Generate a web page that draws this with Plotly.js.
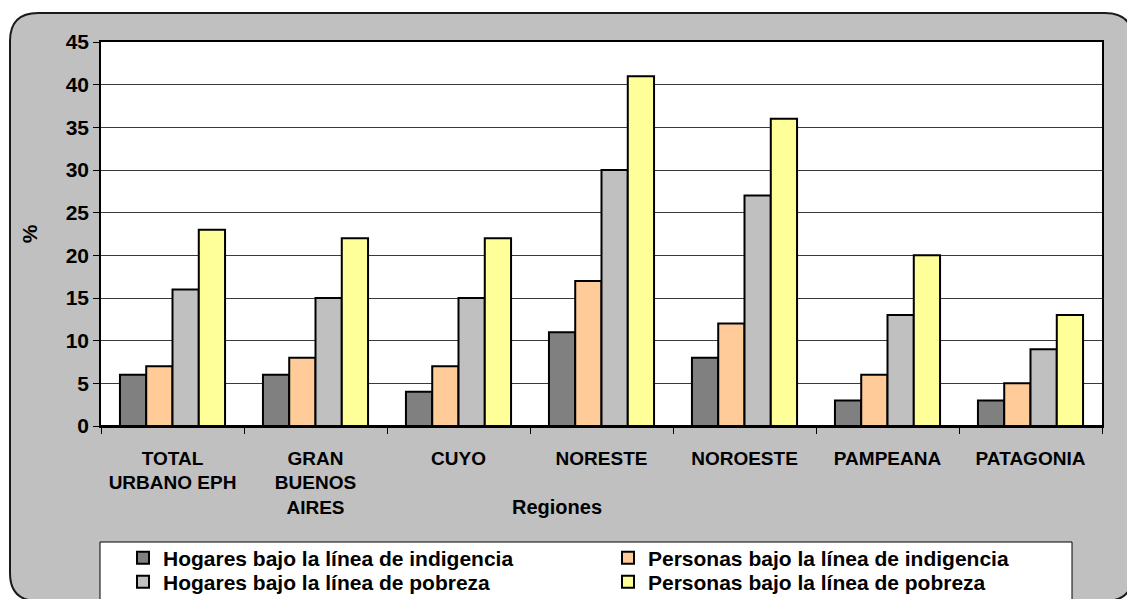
<!DOCTYPE html>
<html>
<head>
<meta charset="utf-8">
<script src="https://cdn.plot.ly/plotly-3.0.1.min.js"></script>
<style>html,body{margin:0;padding:0;background:#fff;}#chart{width:1127px;height:599px;}</style>
</head>
<body>
<div id="chart"></div>
<script>
var categories = ['TOTAL<br>URBANO EPH', 'GRAN<br>BUENOS<br>AIRES', 'CUYO', 'NORESTE', 'NOROESTE', 'PAMPEANA', 'PATAGONIA'];
var seriesNames = ['Hogares bajo la línea de indigencia', 'Personas bajo la línea de indigencia', 'Hogares bajo la línea de pobreza', 'Personas bajo la línea de pobreza'];
var hogaresIndigencia = [6, 6, 4, 11, 8, 3, 3];
var personasIndigencia = [7, 8, 7, 17, 12, 6, 5];
var hogaresPobreza = [16, 15, 15, 30, 27, 13, 9];
var personasPobreza = [23, 22, 22, 41, 36, 20, 13];
var seriesColors = ['#808080', '#FFCC99', '#C0C0C0', '#FFFF99'];
var legendRows = ['legend', 'legend', 'legend2', 'legend2'];
var yTicks = [0, 5, 10, 15, 20, 25, 30, 35, 40, 45];

var seriesValues = [hogaresIndigencia, personasIndigencia, hogaresPobreza, personasPobreza];
var FONT = 'Arial, "Liberation Sans", sans-serif';

var traces = seriesValues.map(function (vals, i) {
  return {
    type: 'bar',
    name: seriesNames[i],
    x: categories,
    y: vals,
    legend: legendRows[i],
    marker: {color: seriesColors[i], line: {color: '#000', width: 2}},
    hoverinfo: 'x+y+name'
  };
});

// pixel -> paper helpers for decoration shapes
var L = 101, R = 25, T = 42, B = 173, W = 1127, H = 599;
var pw = W - L - R, ph = H - T - B;
function px(x) { return (x - L) / pw; }
function py(y) { return (H - B - y) / ph; }

function roundRect(x0, y0, x1, y1, r) {
  var rx = r / pw, ry = r / ph;
  var a = px(x0), b = px(x1), top = py(y0), bot = py(y1);
  return 'M' + (a + rx) + ',' + top +
    ' L' + (b - rx) + ',' + top +
    ' Q' + b + ',' + top + ' ' + b + ',' + (top - ry) +
    ' L' + b + ',' + (bot + ry) +
    ' Q' + b + ',' + bot + ' ' + (b - rx) + ',' + bot +
    ' L' + (a + rx) + ',' + bot +
    ' Q' + a + ',' + bot + ' ' + a + ',' + (bot + ry) +
    ' L' + a + ',' + (top - ry) +
    ' Q' + a + ',' + top + ' ' + (a + rx) + ',' + top + ' Z';
}

function legendRow(yPix) {
  return {
    orientation: 'h',
    x: px(123), xanchor: 'left',
    y: py(yPix), yanchor: 'middle',
    bgcolor: 'rgba(0,0,0,0)',
    borderwidth: 0,
    entrywidth: 440,
    entrywidthmode: 'pixels',
    traceorder: 'normal',
    font: {family: FONT, size: 21, color: '#000', weight: 'bold'}
  };
}

var layout = {
  width: W, height: H,
  margin: {l: L, r: R, t: T, b: B, autoexpand: false},
  paper_bgcolor: '#ffffff',
  plot_bgcolor: '#ffffff',
  font: {family: FONT, color: '#000', size: 20},
  barmode: 'group',
  bargap: 0.265,
  bargroupgap: 0,
  showlegend: true,
  legend: legendRow(558),
  legend2: legendRow(582),
  xaxis: {
    type: 'category',
    showline: true, linecolor: '#000', linewidth: 1.5, mirror: true,
    ticks: 'outside', ticklen: 6, tickcolor: '#000', tickwidth: 1,
    tickson: 'boundaries',
    ticklabelstandoff: 14,
    tickfont: {family: FONT, size: 19, color: '#000', weight: 'bold'},
    showgrid: false,
    zeroline: false,
    fixedrange: true
  },
  yaxis: {
    range: [0, 45],
    tickvals: yTicks,
    ticktext: yTicks.map(String),
    showline: true, linecolor: '#000', linewidth: 1.5, mirror: true,
    ticks: 'outside', ticklen: 6, tickcolor: '#000', tickwidth: 1,
    tickfont: {family: FONT, size: 21, color: '#000', weight: 'bold'},
    showgrid: true, gridcolor: '#3a3a3a', gridwidth: 1,
    zeroline: true, zerolinecolor: '#000', zerolinewidth: 1.5,
    title: {text: '%', font: {family: FONT, size: 21, color: '#000', weight: 'bold'}, standoff: 22},
    fixedrange: true
  },
  annotations: [{
    text: 'Regiones',
    xref: 'paper', yref: 'paper',
    x: px(557), y: py(507),
    xanchor: 'center', yanchor: 'middle',
    showarrow: false,
    font: {family: FONT, size: 20, color: '#000', weight: 'bold'}
  }],
  shapes: [
    {
      type: 'path', xref: 'paper', yref: 'paper', layer: 'below',
      path: roundRect(10, 13, 1133, 601, 28),
      fillcolor: '#C0C0C0',
      line: {color: '#1a1a1a', width: 2}
    },
    {
      type: 'rect', xref: 'paper', yref: 'paper', layer: 'below',
      x0: 0, x1: 1, y0: 0, y1: 1,
      fillcolor: '#ffffff',
      line: {width: 0}
    },
    {
      type: 'rect', xref: 'paper', yref: 'paper', layer: 'below',
      x0: px(100), x1: px(1072), y0: py(610), y1: py(542),
      fillcolor: '#ffffff',
      line: {color: '#000', width: 1}
    }
  ]
};

Plotly.newPlot('chart', traces, layout, {displayModeBar: false, responsive: false});
</script>
</body>
</html>
